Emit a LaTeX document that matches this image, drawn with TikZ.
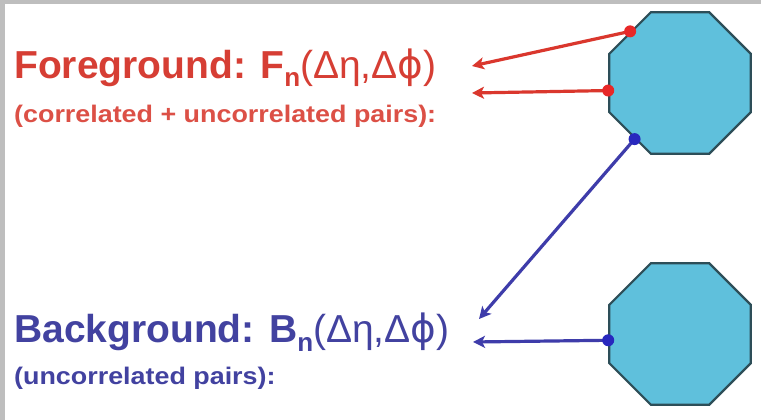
\documentclass[tikz,border=0pt]{standalone}
\usepackage{fontspec}
\setmainfont{Liberation Sans}
\newfontfamily\widefont[FakeStretch=1.12]{Liberation Sans}
\newfontfamily\dvfont{DejaVu Sans}
\usetikzlibrary{shapes.geometric,arrows.meta}
\definecolor{fgred}{RGB}{214,62,52}
\definecolor{fgredlt}{RGB}{220,80,70}
\definecolor{bgblue}{RGB}{66,66,160}
\definecolor{arrred}{RGB}{218,55,45}
\definecolor{arrblue}{RGB}{62,60,170}
\definecolor{dotred}{RGB}{232,40,40}
\definecolor{dotblue}{RGB}{40,40,190}
\definecolor{octfill}{RGB}{95,192,220}
\definecolor{octline}{RGB}{45,78,88}
\definecolor{frame}{RGB}{190,190,190}
\newcommand{\phisym}{{\dvfont\mdseries ϕ}}
\tikzset{
  octa/.style={regular polygon, regular polygon sides=8, minimum size=153pt,
    inner sep=0pt, draw=octline, line width=2.2pt, fill=octfill},
  bigtext/.style={anchor=base west, inner sep=0pt, font=\bfseries\fontsize{39}{44}\selectfont},
  smalltext/.style={anchor=base west, inner sep=0pt, font=\widefont\bfseries\fontsize{24}{27}\selectfont},
  redarrow/.style={draw=arrred, line width=3.2pt, -{Stealth[length=12pt,width=12pt,inset=3pt]}},
  bluearrow/.style={draw=arrblue, line width=3.2pt, -{Stealth[length=12pt,width=12pt,inset=3pt]}},
  reddot/.style={circle, fill=dotred, inner sep=0pt, minimum size=12pt},
  bluedot/.style={circle, fill=dotblue, inner sep=0pt, minimum size=12pt}
}
\begin{document}
\begin{tikzpicture}[x=1pt,y=-1pt]
\useasboundingbox (0,0) rectangle (761,420);
\fill[white] (0,0) rectangle (761,420);
\fill[frame] (0,0) rectangle (761,4.5);
\fill[frame] (0,0) rectangle (4.5,420);

\node[octa] (o1) at (680,83) {};
\node[octa] (o2) at (680,334) {};

\node[bigtext, text=fgred] (fg) at (14,78)
  {Foreground: F\raisebox{-9pt}{\fontsize{26}{28}\selectfont n}{\mdseries(Δη,Δ\phisym)}};
\node[smalltext, text=fgredlt] (fgsub) at (14,122) {(correlated + uncorrelated pairs):};
\node[bigtext, text=bgblue] (bg) at (14,342)
  {Background: B\raisebox{-9pt}{\fontsize{26}{28}\selectfont n}{\mdseries(Δη,Δ\phisym)}};
\node[smalltext, text=bgblue] (bgsub) at (14,384) {(uncorrelated pairs):};

\coordinate (t1) at (472,66);
\coordinate (t2) at (472,93);
\coordinate (t3) at (479,319);
\coordinate (t4) at (473,342);

\coordinate (d1) at (o1.134);
\coordinate (d2) at (o1.186);
\coordinate (d3) at (o1.231);
\coordinate (d4) at (o2.185);

\draw[redarrow] (d1) -- (t1);
\draw[redarrow] (d2) -- (t2);
\draw[bluearrow] (d3) -- (t3);
\draw[bluearrow] (d4) -- (t4);

\node[reddot] (p1) at (d1) {};
\node[reddot] (p2) at (d2) {};
\node[bluedot] (p3) at (d3) {};
\node[bluedot] (p4) at (d4) {};
\end{tikzpicture}
\end{document}
